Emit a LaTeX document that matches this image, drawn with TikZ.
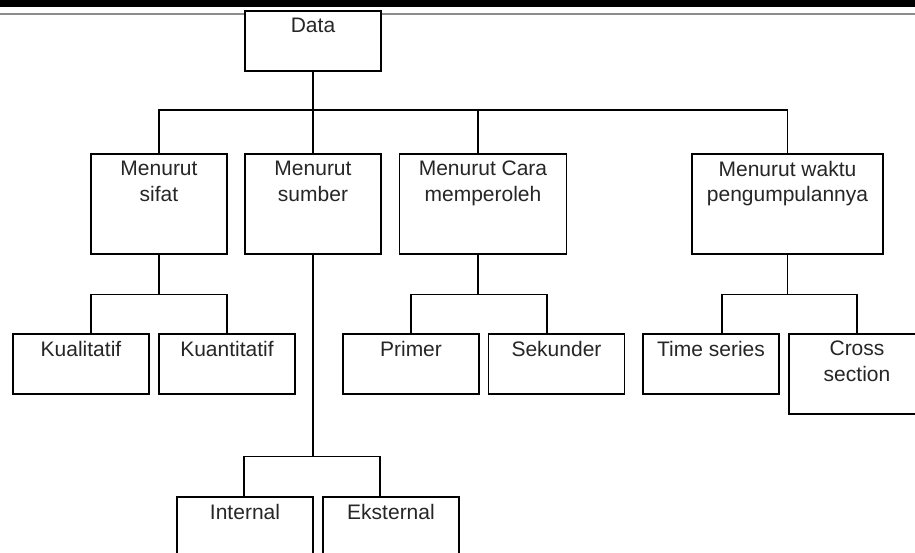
\documentclass[tikz,border=0pt]{standalone}
\usepackage{fontspec}
\setmainfont{Liberation Sans}
\usetikzlibrary{calc}

\tikzset{
  box/.style={draw, line width=1.5pt, fill=white, minimum width=136pt,
    minimum height=60pt, inner sep=0pt, anchor=north},
  boxtext/.style={anchor=north, yshift=-8pt, inner sep=0pt, align=center,
    font=\fontsize{21}{25.5}\selectfont, text=black!85},
  wire/.style={line width=1.5pt},
}

\begin{document}
\begin{tikzpicture}[x=1pt, y=-1pt]
			%%%%% START %%%%%
			\useasboundingbox (0,0) rectangle (915,552);
			\clip (0,0) rectangle (915,552);
			
			\fill[black] (0,0) rectangle (915,7.3);
			\draw[black!45, line width=1.2pt] (0,14) -- (915,14);
			\coordinate (bus) at (0,110);
			
			% root
			\node[box, label={[boxtext]north:Data}] (data) at (313,10) {};
			
			% first level
			\node[box, minimum height=100pt, label={[boxtext]north:{Menurut\\sifat}}] (sifat) at (159,153) {};
			\node[box, minimum height=100pt, label={[boxtext]north:{Menurut\\sumber}}] (sumber) at (313,153) {};
			\node[box, minimum width=167pt, minimum height=100pt, label={[boxtext]north:{Menurut Cara\\memperoleh}}] (cara) at (483,153) {};
			\node[box, minimum width=191pt, minimum height=100pt, label={[boxtext]north:{Menurut waktu\\pengumpulannya}}] (waktu) at (787.5,153) {};
			
			% second level
			\node[box, label={[boxtext]north:Kualitatif}] (kualitatif) at (81,333) {};
			\node[box, label={[boxtext]north:Kuantitatif}] (kuantitatif) at (227,333) {};
			\node[box, label={[boxtext]north:Primer}] (primer) at (411,333) {};
			\node[box, label={[boxtext]north:Sekunder}] (sekunder) at (556.5,333) {};
			\node[box, label={[boxtext]north:Time series}] (timeseries) at (711,333) {};
			\node[box, minimum height=80pt, label={[boxtext]north:{Cross\\section}}] (crosssection) at (857,333) {};
			
			% third level
			\node[box, minimum height=80pt, label={[boxtext]north:Internal}] (internal) at (245,496) {};
			\node[box, minimum height=80pt, label={[boxtext]north:Eksternal}] (eksternal) at (391,496) {};
			
			% connectors
			\draw[wire] (data.south) -- (sumber.north);
			\draw[wire] (sifat.north) |- (waktu.north |- bus) -- (waktu.north);
			\draw[wire] ([xshift=-5pt]cara.north) -- ([xshift=-5pt]cara.north |- bus);
			
			\draw[wire] (sifat.south) -- ++(0,40) -| ([xshift=10pt]kualitatif.north);
			\draw[wire] (sifat.south) ++(0,40) -| (kuantitatif.north);
			
			\draw[wire] ([xshift=-5pt]cara.south) -- ++(0,40) -| (primer.north);
			\draw[wire] ([xshift=-5pt]cara.south) ++(0,40) -| ([xshift=-9.5pt]sekunder.north);
			
			\draw[wire] (waktu.south) -- ++(0,40) -| ([xshift=11pt]timeseries.north);
			\draw[wire] (waktu.south) ++(0,40) -| (crosssection.north);
			
			\draw[wire] (sumber.south) -- ++(0,202) -| ([xshift=-1pt]internal.north);
			\draw[wire] (sumber.south) ++(0,202) -| ([xshift=-11pt]eksternal.north);
			
			%%%%% END %%%%%
\end{tikzpicture}
\end{document}
